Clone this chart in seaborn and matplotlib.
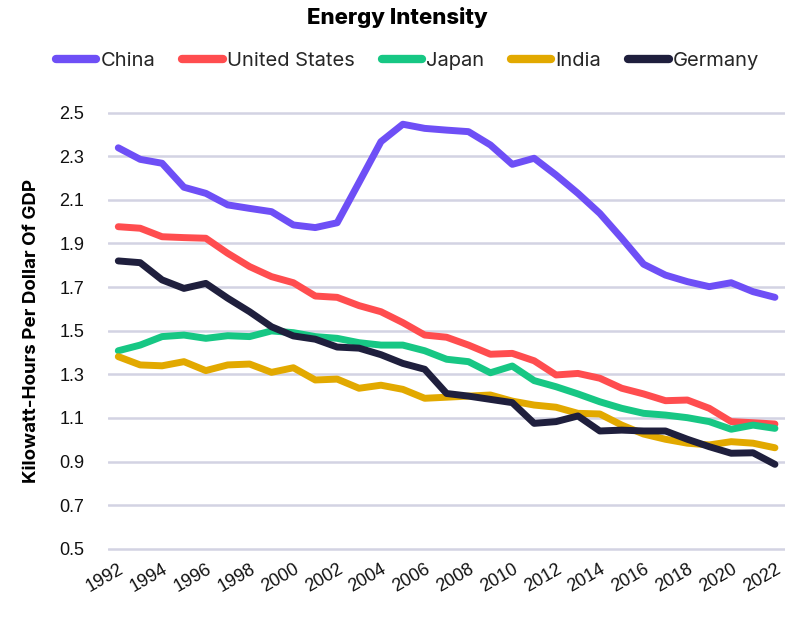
import matplotlib
matplotlib.use("Agg")
import matplotlib.pyplot as plt
import seaborn as sns
import pandas as pd

years = list(range(1992, 2023))
china = [2.339, 2.286, 2.268, 2.158, 2.130, 2.077, 2.061, 2.046, 1.985, 1.973, 1.995,
         2.180, 2.367, 2.447, 2.428, 2.420, 2.413, 2.352, 2.263, 2.291, 2.214, 2.130,
         2.038, 1.924, 1.805, 1.755, 1.725, 1.702, 1.720, 1.679, 1.653]
usa = [1.977, 1.970, 1.931, 1.927, 1.924, 1.855, 1.794, 1.748, 1.720, 1.659, 1.653,
       1.615, 1.587, 1.537, 1.480, 1.470, 1.434, 1.392, 1.396, 1.362, 1.297, 1.304,
       1.282, 1.236, 1.210, 1.179, 1.182, 1.144, 1.083, 1.078, 1.072]
japan = [1.408, 1.434, 1.473, 1.480, 1.465, 1.477, 1.473, 1.499, 1.491, 1.473, 1.465,
         1.445, 1.434, 1.434, 1.408, 1.369, 1.358, 1.307, 1.338, 1.271, 1.243, 1.210,
         1.174, 1.144, 1.121, 1.113, 1.101, 1.083, 1.048, 1.067, 1.052]
india = [1.381, 1.343, 1.339, 1.358, 1.317, 1.343, 1.347, 1.309, 1.330, 1.274, 1.278,
         1.236, 1.250, 1.231, 1.190, 1.195, 1.200, 1.205, 1.177, 1.159, 1.149, 1.121,
         1.118, 1.067, 1.026, 1.002, 0.984, 0.976, 0.991, 0.984, 0.963]
germany = [1.820, 1.812, 1.733, 1.694, 1.717, 1.649, 1.587, 1.518, 1.476, 1.461, 1.425,
           1.420, 1.390, 1.350, 1.323, 1.212, 1.200, 1.185, 1.170, 1.075, 1.083, 1.109,
           1.040, 1.044, 1.040, 1.040, 1.002, 0.968, 0.938, 0.940, 0.887]
countries = ["China", "United States", "Japan", "India", "Germany"]
colors = ["#6E4FF6", "#FF4D4F", "#17C784", "#E2A900", "#1F1F3D"]
yticks = [0.5, 0.7, 0.9, 1.1, 1.3, 1.5, 1.7, 1.9, 2.1, 2.3, 2.5]
xticks = list(range(1992, 2023, 2))

series = [china, usa, japan, india, germany]
df = pd.DataFrame({
    "Year": years * len(countries),
    "Country": [c for c in countries for _ in years],
    "Value": [v for s in series for v in s],
})

sns.set_theme(style="white")
plt.rcParams["font.family"] = ["Inter", "DejaVu Sans"]

fig = plt.figure(figsize=(8.07, 6.18), dpi=100)
W, H = 807, 618
ax = fig.add_axes([108 / W, 1 - 550.9 / H, (785 - 108) / W, (550.9 - 110.5) / H])

sns.lineplot(data=df, x="Year", y="Value", hue="Country", hue_order=countries,
             palette=colors, linewidth=5, ax=ax, legend=False,
             solid_capstyle="round", solid_joinstyle="round")

tickfam = ["Liberation Sans", "DejaVu Sans"]
ax.set_xlim(1991.53, 2022.46)
ax.set_ylim(0.49, 2.51)
ax.set_yticks(yticks)
ax.set_yticklabels([f"{t:.1f}" for t in yticks])
ax.set_xticks(xticks)
ax.set_xticklabels([str(t) for t in xticks], rotation=30, ha="right",
                   rotation_mode="anchor")
for lab in ax.get_xticklabels() + ax.get_yticklabels():
    lab.set_fontfamily(tickfam)
    lab.set_fontsize(13)
    lab.set_color("#111111")
ax.tick_params(axis="both", length=0)
ax.tick_params(axis="y", pad=17)
ax.tick_params(axis="x", pad=7)
for s in ax.spines.values():
    s.set_visible(False)
ax.grid(axis="y", color="#D3D3E3", linewidth=1.8)
ax.grid(axis="x", visible=False)
ax.set_axisbelow(True)
ax.set_xlabel("")
ax.set_ylabel("Kilowatt-Hours Per Dollar Of GDP", fontsize=13.5, fontweight="bold",
              color="#000000", labelpad=14)

fig.text(0.493, 1 - 18 / H, "Energy Intensity", ha="center", va="center",
         fontsize=16, fontweight="heavy", color="#000000")

handles = [plt.Line2D([0], [0], color=c, linewidth=6, solid_capstyle="round") for c in colors]
fig.legend(handles, countries, loc="center", bbox_to_anchor=(0.505, 1 - 61 / H), ncol=5,
           frameon=False, fontsize=14.5, handlelength=2.0, handletextpad=0.2,
           columnspacing=1.35, borderaxespad=0)

fig.savefig("out.png", dpi=100, facecolor="white")
